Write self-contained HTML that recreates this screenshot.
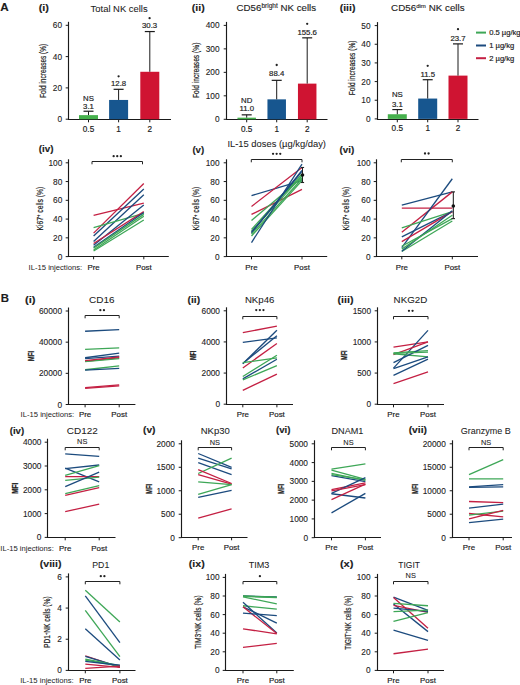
<!DOCTYPE html>
<html><head><meta charset="utf-8"><style>
html,body{margin:0;padding:0;background:#fff;width:520px;height:685px;overflow:hidden;}
svg text{font-family:"Liberation Sans",sans-serif;}
</style></head><body>
<svg width="520" height="685" viewBox="0 0 520 685" style="display:block;font-family:'Liberation Sans',sans-serif">
<rect width="520" height="685" fill="#ffffff"/>
<text x="4.50" y="10.99" font-size="10.4" text-anchor="middle" font-weight="bold" fill="#1c1c1c" stroke="#1c1c1c" stroke-width="0.12" textLength="8.44" lengthAdjust="spacingAndGlyphs" >A</text>
<text x="4.80" y="302.09" font-size="10.4" text-anchor="middle" font-weight="bold" fill="#1c1c1c" stroke="#1c1c1c" stroke-width="0.12" textLength="8.24" lengthAdjust="spacingAndGlyphs" >B</text>
<text x="43.85" y="10.82" font-size="9.7" text-anchor="middle" font-weight="bold" fill="#1c1c1c" stroke="#1c1c1c" stroke-width="0.12" textLength="10.27" lengthAdjust="spacingAndGlyphs" >(i)</text>
<text x="119.15" y="11.60" font-size="9.6" text-anchor="middle" font-weight="normal" fill="#1c1c1c" stroke="#1c1c1c" stroke-width="0.06" textLength="57.06" lengthAdjust="spacingAndGlyphs" >Total NK cells</text>
<line x1="68.50" y1="21.80" x2="68.50" y2="120.00" stroke="#1a1a1a" stroke-width="1.15" />
<line x1="65.70" y1="119.20" x2="68.50" y2="119.20" stroke="#1a1a1a" stroke-width="1.0" />
<text x="62.00" y="122.23" font-size="8.3" text-anchor="end" font-weight="normal" fill="#1c1c1c" stroke="#1c1c1c" stroke-width="0.1" >0</text>
<line x1="65.70" y1="87.90" x2="68.50" y2="87.90" stroke="#1a1a1a" stroke-width="1.0" />
<text x="62.00" y="90.93" font-size="8.3" text-anchor="end" font-weight="normal" fill="#1c1c1c" stroke="#1c1c1c" stroke-width="0.1" >20</text>
<line x1="65.70" y1="56.60" x2="68.50" y2="56.60" stroke="#1a1a1a" stroke-width="1.0" />
<text x="62.00" y="59.63" font-size="8.3" text-anchor="end" font-weight="normal" fill="#1c1c1c" stroke="#1c1c1c" stroke-width="0.1" >40</text>
<line x1="65.70" y1="25.30" x2="68.50" y2="25.30" stroke="#1a1a1a" stroke-width="1.0" />
<text x="62.00" y="28.33" font-size="8.3" text-anchor="end" font-weight="normal" fill="#1c1c1c" stroke="#1c1c1c" stroke-width="0.1" >60</text>
<line x1="68.00" y1="119.50" x2="171.00" y2="119.50" stroke="#1a1a1a" stroke-width="1.15" />
<text transform="translate(45.81,70.95) rotate(-90)" x="0" y="0" font-size="9.0" font-weight="normal" text-anchor="middle" fill="#1c1c1c" stroke="#1c1c1c" stroke-width="0.2" textLength="54.30" lengthAdjust="spacingAndGlyphs">Fold increases (%)</text>
<line x1="88.50" y1="119.50" x2="88.50" y2="122.30" stroke="#1a1a1a" stroke-width="1.0" />
<text x="88.50" y="131.50" font-size="8.2" text-anchor="middle" font-weight="normal" fill="#1c1c1c" stroke="#1c1c1c" stroke-width="0.18" >0.5</text>
<line x1="118.60" y1="119.50" x2="118.60" y2="122.30" stroke="#1a1a1a" stroke-width="1.0" />
<text x="118.60" y="131.50" font-size="8.2" text-anchor="middle" font-weight="normal" fill="#1c1c1c" stroke="#1c1c1c" stroke-width="0.18" >1</text>
<line x1="149.80" y1="119.50" x2="149.80" y2="122.30" stroke="#1a1a1a" stroke-width="1.0" />
<text x="149.80" y="131.50" font-size="8.2" text-anchor="middle" font-weight="normal" fill="#1c1c1c" stroke="#1c1c1c" stroke-width="0.18" >2</text>
<rect x="79.00" y="115.13" width="19.00" height="4.07" fill="#45b04c" stroke="none" stroke-width="0"/>
<line x1="88.50" y1="115.13" x2="88.50" y2="111.22" stroke="#1a1a1a" stroke-width="1.0" />
<line x1="83.50" y1="111.22" x2="93.50" y2="111.22" stroke="#1a1a1a" stroke-width="1.2" />
<rect x="109.10" y="99.95" width="19.00" height="19.25" fill="#17568f" stroke="none" stroke-width="0"/>
<line x1="118.60" y1="99.95" x2="118.60" y2="89.31" stroke="#1a1a1a" stroke-width="1.0" />
<line x1="113.60" y1="89.31" x2="123.60" y2="89.31" stroke="#1a1a1a" stroke-width="1.2" />
<rect x="140.30" y="71.78" width="19.00" height="47.42" fill="#cf1432" stroke="none" stroke-width="0"/>
<line x1="149.80" y1="71.78" x2="149.80" y2="31.56" stroke="#1a1a1a" stroke-width="1.0" />
<line x1="144.80" y1="31.56" x2="154.80" y2="31.56" stroke="#1a1a1a" stroke-width="1.2" />
<text x="88.50" y="101.10" font-size="7.8" text-anchor="middle" font-weight="normal" fill="#1c1c1c" stroke="#1c1c1c" stroke-width="0.18" >NS</text>
<text x="88.50" y="108.60" font-size="7.8" text-anchor="middle" font-weight="normal" fill="#1c1c1c" stroke="#1c1c1c" stroke-width="0.18" >3.1</text>
<circle cx="118.60" cy="76.30" r="1.15" fill="#222"/>
<text x="118.60" y="85.50" font-size="7.8" text-anchor="middle" font-weight="normal" fill="#1c1c1c" stroke="#1c1c1c" stroke-width="0.18" >12.8</text>
<circle cx="149.60" cy="18.20" r="1.15" fill="#222"/>
<text x="149.60" y="28.30" font-size="7.8" text-anchor="middle" font-weight="normal" fill="#1c1c1c" stroke="#1c1c1c" stroke-width="0.18" >30.3</text>
<text x="198.30" y="10.62" font-size="9.7" text-anchor="middle" font-weight="bold" fill="#1c1c1c" stroke="#1c1c1c" stroke-width="0.12" textLength="12.97" lengthAdjust="spacingAndGlyphs" >(ii)</text>
<text x="236.6" y="11.1" font-size="9.4" fill="#1c1c1c" stroke="#1c1c1c" stroke-width="0.12" textLength="79.5" lengthAdjust="spacingAndGlyphs">CD56<tspan font-size="6.3" dy="-3.4">bright</tspan><tspan dy="3.4"> NK cells</tspan></text>
<line x1="226.50" y1="21.90" x2="226.50" y2="120.00" stroke="#1a1a1a" stroke-width="1.15" />
<line x1="223.70" y1="119.30" x2="226.50" y2="119.30" stroke="#1a1a1a" stroke-width="1.0" />
<text x="219.60" y="122.33" font-size="8.3" text-anchor="end" font-weight="normal" fill="#1c1c1c" stroke="#1c1c1c" stroke-width="0.1" >0</text>
<line x1="223.70" y1="95.82" x2="226.50" y2="95.82" stroke="#1a1a1a" stroke-width="1.0" />
<text x="219.60" y="98.85" font-size="8.3" text-anchor="end" font-weight="normal" fill="#1c1c1c" stroke="#1c1c1c" stroke-width="0.1" >100</text>
<line x1="223.70" y1="72.35" x2="226.50" y2="72.35" stroke="#1a1a1a" stroke-width="1.0" />
<text x="219.60" y="75.38" font-size="8.3" text-anchor="end" font-weight="normal" fill="#1c1c1c" stroke="#1c1c1c" stroke-width="0.1" >200</text>
<line x1="223.70" y1="48.87" x2="226.50" y2="48.87" stroke="#1a1a1a" stroke-width="1.0" />
<text x="219.60" y="51.90" font-size="8.3" text-anchor="end" font-weight="normal" fill="#1c1c1c" stroke="#1c1c1c" stroke-width="0.1" >300</text>
<line x1="223.70" y1="25.40" x2="226.50" y2="25.40" stroke="#1a1a1a" stroke-width="1.0" />
<text x="219.60" y="28.43" font-size="8.3" text-anchor="end" font-weight="normal" fill="#1c1c1c" stroke="#1c1c1c" stroke-width="0.1" >400</text>
<line x1="226.00" y1="119.50" x2="327.50" y2="119.50" stroke="#1a1a1a" stroke-width="1.15" />
<text transform="translate(199.41,70.35) rotate(-90)" x="0" y="0" font-size="9.0" font-weight="normal" text-anchor="middle" fill="#1c1c1c" stroke="#1c1c1c" stroke-width="0.2" textLength="55.50" lengthAdjust="spacingAndGlyphs">Fold increases (%)</text>
<line x1="246.70" y1="119.50" x2="246.70" y2="122.30" stroke="#1a1a1a" stroke-width="1.0" />
<text x="246.70" y="131.50" font-size="8.2" text-anchor="middle" font-weight="normal" fill="#1c1c1c" stroke="#1c1c1c" stroke-width="0.18" >0.5</text>
<line x1="276.70" y1="119.50" x2="276.70" y2="122.30" stroke="#1a1a1a" stroke-width="1.0" />
<text x="276.70" y="131.50" font-size="8.2" text-anchor="middle" font-weight="normal" fill="#1c1c1c" stroke="#1c1c1c" stroke-width="0.18" >1</text>
<line x1="307.20" y1="119.50" x2="307.20" y2="122.30" stroke="#1a1a1a" stroke-width="1.0" />
<text x="307.20" y="131.50" font-size="8.2" text-anchor="middle" font-weight="normal" fill="#1c1c1c" stroke="#1c1c1c" stroke-width="0.18" >2</text>
<rect x="237.45" y="117.66" width="18.50" height="1.64" fill="#45b04c" stroke="none" stroke-width="0"/>
<line x1="246.70" y1="117.66" x2="246.70" y2="114.84" stroke="#1a1a1a" stroke-width="1.0" />
<line x1="241.70" y1="114.84" x2="251.70" y2="114.84" stroke="#1a1a1a" stroke-width="1.2" />
<rect x="267.45" y="99.35" width="18.50" height="19.95" fill="#17568f" stroke="none" stroke-width="0"/>
<line x1="276.70" y1="99.35" x2="276.70" y2="80.33" stroke="#1a1a1a" stroke-width="1.0" />
<line x1="271.70" y1="80.33" x2="281.70" y2="80.33" stroke="#1a1a1a" stroke-width="1.2" />
<rect x="297.95" y="83.62" width="18.50" height="35.68" fill="#cf1432" stroke="none" stroke-width="0"/>
<line x1="307.20" y1="83.62" x2="307.20" y2="37.84" stroke="#1a1a1a" stroke-width="1.0" />
<line x1="302.20" y1="37.84" x2="312.20" y2="37.84" stroke="#1a1a1a" stroke-width="1.2" />
<text x="246.70" y="102.50" font-size="7.8" text-anchor="middle" font-weight="normal" fill="#1c1c1c" stroke="#1c1c1c" stroke-width="0.18" >ND</text>
<text x="246.70" y="111.30" font-size="7.8" text-anchor="middle" font-weight="normal" fill="#1c1c1c" stroke="#1c1c1c" stroke-width="0.18" >11.0</text>
<circle cx="276.70" cy="65.00" r="1.15" fill="#222"/>
<text x="276.70" y="76.00" font-size="7.8" text-anchor="middle" font-weight="normal" fill="#1c1c1c" stroke="#1c1c1c" stroke-width="0.18" >88.4</text>
<circle cx="307.20" cy="23.80" r="1.15" fill="#222"/>
<text x="307.20" y="34.60" font-size="7.8" text-anchor="middle" font-weight="normal" fill="#1c1c1c" stroke="#1c1c1c" stroke-width="0.18" >155.6</text>
<text x="347.60" y="10.62" font-size="9.7" text-anchor="middle" font-weight="bold" fill="#1c1c1c" stroke="#1c1c1c" stroke-width="0.12" textLength="15.77" lengthAdjust="spacingAndGlyphs" >(iii)</text>
<text x="391.1" y="11.3" font-size="9.4" fill="#1c1c1c" stroke="#1c1c1c" stroke-width="0.12" textLength="73.5" lengthAdjust="spacingAndGlyphs">CD56<tspan font-size="5.8" dy="-3.4">dim</tspan><tspan dy="3.4"> NK cells</tspan></text>
<line x1="377.50" y1="22.10" x2="377.50" y2="120.00" stroke="#1a1a1a" stroke-width="1.15" />
<line x1="374.70" y1="118.90" x2="377.50" y2="118.90" stroke="#1a1a1a" stroke-width="1.0" />
<text x="370.60" y="121.93" font-size="8.3" text-anchor="end" font-weight="normal" fill="#1c1c1c" stroke="#1c1c1c" stroke-width="0.1" >0</text>
<line x1="374.70" y1="100.24" x2="377.50" y2="100.24" stroke="#1a1a1a" stroke-width="1.0" />
<text x="370.60" y="103.27" font-size="8.3" text-anchor="end" font-weight="normal" fill="#1c1c1c" stroke="#1c1c1c" stroke-width="0.1" >10</text>
<line x1="374.70" y1="81.58" x2="377.50" y2="81.58" stroke="#1a1a1a" stroke-width="1.0" />
<text x="370.60" y="84.61" font-size="8.3" text-anchor="end" font-weight="normal" fill="#1c1c1c" stroke="#1c1c1c" stroke-width="0.1" >20</text>
<line x1="374.70" y1="62.92" x2="377.50" y2="62.92" stroke="#1a1a1a" stroke-width="1.0" />
<text x="370.60" y="65.95" font-size="8.3" text-anchor="end" font-weight="normal" fill="#1c1c1c" stroke="#1c1c1c" stroke-width="0.1" >30</text>
<line x1="374.70" y1="44.26" x2="377.50" y2="44.26" stroke="#1a1a1a" stroke-width="1.0" />
<text x="370.60" y="47.29" font-size="8.3" text-anchor="end" font-weight="normal" fill="#1c1c1c" stroke="#1c1c1c" stroke-width="0.1" >40</text>
<line x1="374.70" y1="25.60" x2="377.50" y2="25.60" stroke="#1a1a1a" stroke-width="1.0" />
<text x="370.60" y="28.63" font-size="8.3" text-anchor="end" font-weight="normal" fill="#1c1c1c" stroke="#1c1c1c" stroke-width="0.1" >50</text>
<line x1="377.00" y1="119.50" x2="478.50" y2="119.50" stroke="#1a1a1a" stroke-width="1.15" />
<text transform="translate(354.71,67.90) rotate(-90)" x="0" y="0" font-size="9.0" font-weight="normal" text-anchor="middle" fill="#1c1c1c" stroke="#1c1c1c" stroke-width="0.2" textLength="54.60" lengthAdjust="spacingAndGlyphs">Fold increases (%)</text>
<line x1="397.30" y1="119.50" x2="397.30" y2="122.30" stroke="#1a1a1a" stroke-width="1.0" />
<text x="397.30" y="130.90" font-size="8.2" text-anchor="middle" font-weight="normal" fill="#1c1c1c" stroke="#1c1c1c" stroke-width="0.18" >0.5</text>
<line x1="427.70" y1="119.50" x2="427.70" y2="122.30" stroke="#1a1a1a" stroke-width="1.0" />
<text x="427.70" y="130.90" font-size="8.2" text-anchor="middle" font-weight="normal" fill="#1c1c1c" stroke="#1c1c1c" stroke-width="0.18" >1</text>
<line x1="458.00" y1="119.50" x2="458.00" y2="122.30" stroke="#1a1a1a" stroke-width="1.0" />
<text x="458.00" y="130.90" font-size="8.2" text-anchor="middle" font-weight="normal" fill="#1c1c1c" stroke="#1c1c1c" stroke-width="0.18" >2</text>
<rect x="387.80" y="114.23" width="19.00" height="4.67" fill="#45b04c" stroke="none" stroke-width="0"/>
<line x1="397.30" y1="114.23" x2="397.30" y2="109.57" stroke="#1a1a1a" stroke-width="1.0" />
<line x1="392.30" y1="109.57" x2="402.30" y2="109.57" stroke="#1a1a1a" stroke-width="1.2" />
<rect x="418.20" y="98.56" width="19.00" height="20.34" fill="#17568f" stroke="none" stroke-width="0"/>
<line x1="427.70" y1="98.56" x2="427.70" y2="79.71" stroke="#1a1a1a" stroke-width="1.0" />
<line x1="422.70" y1="79.71" x2="432.70" y2="79.71" stroke="#1a1a1a" stroke-width="1.2" />
<rect x="448.50" y="75.61" width="19.00" height="43.29" fill="#cf1432" stroke="none" stroke-width="0"/>
<line x1="458.00" y1="75.61" x2="458.00" y2="43.89" stroke="#1a1a1a" stroke-width="1.0" />
<line x1="453.00" y1="43.89" x2="463.00" y2="43.89" stroke="#1a1a1a" stroke-width="1.2" />
<text x="397.30" y="97.40" font-size="7.8" text-anchor="middle" font-weight="normal" fill="#1c1c1c" stroke="#1c1c1c" stroke-width="0.18" >NS</text>
<text x="397.30" y="106.60" font-size="7.8" text-anchor="middle" font-weight="normal" fill="#1c1c1c" stroke="#1c1c1c" stroke-width="0.18" >3.1</text>
<circle cx="427.70" cy="65.80" r="1.15" fill="#222"/>
<text x="427.70" y="76.60" font-size="7.8" text-anchor="middle" font-weight="normal" fill="#1c1c1c" stroke="#1c1c1c" stroke-width="0.18" >11.5</text>
<circle cx="458.00" cy="29.20" r="1.15" fill="#222"/>
<text x="458.00" y="40.50" font-size="7.8" text-anchor="middle" font-weight="normal" fill="#1c1c1c" stroke="#1c1c1c" stroke-width="0.18" >23.7</text>
<line x1="476.00" y1="32.60" x2="486.00" y2="32.60" stroke="#3ea757" stroke-width="2.0" />
<text x="489.20" y="35.40" font-size="7.6" text-anchor="start" font-weight="normal" fill="#1c1c1c" stroke="#1c1c1c" stroke-width="0.18" >0.5 µg/kg</text>
<line x1="476.00" y1="45.50" x2="486.00" y2="45.50" stroke="#1c4b7e" stroke-width="2.0" />
<text x="489.20" y="48.30" font-size="7.6" text-anchor="start" font-weight="normal" fill="#1c1c1c" stroke="#1c1c1c" stroke-width="0.18" >1 µg/kg</text>
<line x1="476.00" y1="58.20" x2="486.00" y2="58.20" stroke="#c42043" stroke-width="2.0" />
<text x="489.20" y="61.00" font-size="7.6" text-anchor="start" font-weight="normal" fill="#1c1c1c" stroke="#1c1c1c" stroke-width="0.18" >2 µg/kg</text>
<text x="46.10" y="152.02" font-size="9.7" text-anchor="middle" font-weight="bold" fill="#1c1c1c" stroke="#1c1c1c" stroke-width="0.12" textLength="14.77" lengthAdjust="spacingAndGlyphs" >(iv)</text>
<text x="198.30" y="152.72" font-size="9.7" text-anchor="middle" font-weight="bold" fill="#1c1c1c" stroke="#1c1c1c" stroke-width="0.12" textLength="11.77" lengthAdjust="spacingAndGlyphs" >(v)</text>
<text x="346.90" y="152.92" font-size="9.7" text-anchor="middle" font-weight="bold" fill="#1c1c1c" stroke="#1c1c1c" stroke-width="0.12" textLength="14.77" lengthAdjust="spacingAndGlyphs" >(vi)</text>
<text x="276.70" y="147.08" font-size="9.0" text-anchor="middle" font-weight="normal" fill="#1c1c1c" stroke="#1c1c1c" stroke-width="0.06" textLength="98.50" lengthAdjust="spacingAndGlyphs" >IL-15 doses (µg/kg/day)</text>
<line x1="68.50" y1="159.30" x2="68.50" y2="257.00" stroke="#1a1a1a" stroke-width="1.15" />
<line x1="65.70" y1="256.60" x2="68.50" y2="256.60" stroke="#1a1a1a" stroke-width="1.0" />
<text x="62.30" y="259.63" font-size="8.3" text-anchor="end" font-weight="normal" fill="#1c1c1c" stroke="#1c1c1c" stroke-width="0.1" >0</text>
<line x1="65.70" y1="237.84" x2="68.50" y2="237.84" stroke="#1a1a1a" stroke-width="1.0" />
<text x="62.30" y="240.87" font-size="8.3" text-anchor="end" font-weight="normal" fill="#1c1c1c" stroke="#1c1c1c" stroke-width="0.1" >20</text>
<line x1="65.70" y1="219.08" x2="68.50" y2="219.08" stroke="#1a1a1a" stroke-width="1.0" />
<text x="62.30" y="222.11" font-size="8.3" text-anchor="end" font-weight="normal" fill="#1c1c1c" stroke="#1c1c1c" stroke-width="0.1" >40</text>
<line x1="65.70" y1="200.32" x2="68.50" y2="200.32" stroke="#1a1a1a" stroke-width="1.0" />
<text x="62.30" y="203.35" font-size="8.3" text-anchor="end" font-weight="normal" fill="#1c1c1c" stroke="#1c1c1c" stroke-width="0.1" >60</text>
<line x1="65.70" y1="181.56" x2="68.50" y2="181.56" stroke="#1a1a1a" stroke-width="1.0" />
<text x="62.30" y="184.59" font-size="8.3" text-anchor="end" font-weight="normal" fill="#1c1c1c" stroke="#1c1c1c" stroke-width="0.1" >80</text>
<line x1="65.70" y1="162.80" x2="68.50" y2="162.80" stroke="#1a1a1a" stroke-width="1.0" />
<text x="62.30" y="165.83" font-size="8.3" text-anchor="end" font-weight="normal" fill="#1c1c1c" stroke="#1c1c1c" stroke-width="0.1" >100</text>
<line x1="68.00" y1="256.50" x2="168.80" y2="256.50" stroke="#1a1a1a" stroke-width="1.15" />
<line x1="93.60" y1="256.50" x2="93.60" y2="259.30" stroke="#1a1a1a" stroke-width="1.0" />
<line x1="143.80" y1="256.50" x2="143.80" y2="259.30" stroke="#1a1a1a" stroke-width="1.0" />
<path d="M92.00,164.30 V161.50 H142.50 V164.30" fill="none" stroke="#222" stroke-width="1.0"/>
<circle cx="113.65" cy="156.20" r="1.15" fill="#222"/>
<circle cx="117.25" cy="156.20" r="1.15" fill="#222"/>
<circle cx="120.85" cy="156.20" r="1.15" fill="#222"/>
<text transform="translate(42.71,208.60) rotate(-90)" x="0" y="0" font-size="9.0" font-weight="normal" text-anchor="middle" fill="#1c1c1c" stroke="#1c1c1c" stroke-width="0.2" textLength="43.80" lengthAdjust="spacingAndGlyphs">Ki67<tspan font-size="5.5" dy="-2.6">+</tspan><tspan dy="2.6"> cells (%)</tspan></text>
<text x="93.60" y="269.50" font-size="7.9" text-anchor="middle" font-weight="normal" fill="#1c1c1c" stroke="#1c1c1c" stroke-width="0.18" >Pre</text>
<text x="143.80" y="269.50" font-size="7.9" text-anchor="middle" font-weight="normal" fill="#1c1c1c" stroke="#1c1c1c" stroke-width="0.18" >Post</text>
<line x1="93.60" y1="215.33" x2="143.80" y2="203.13" stroke="#c42043" stroke-width="1.3" />
<line x1="93.60" y1="233.15" x2="143.80" y2="183.44" stroke="#c42043" stroke-width="1.3" />
<line x1="93.60" y1="235.96" x2="143.80" y2="189.06" stroke="#1c4b7e" stroke-width="1.3" />
<line x1="93.60" y1="241.59" x2="143.80" y2="194.69" stroke="#1c4b7e" stroke-width="1.3" />
<line x1="93.60" y1="227.52" x2="143.80" y2="213.45" stroke="#3ea757" stroke-width="1.3" />
<line x1="93.60" y1="245.34" x2="143.80" y2="205.01" stroke="#1c4b7e" stroke-width="1.3" />
<line x1="93.60" y1="243.47" x2="143.80" y2="211.58" stroke="#c42043" stroke-width="1.3" />
<line x1="93.60" y1="247.22" x2="143.80" y2="212.51" stroke="#1c4b7e" stroke-width="1.3" />
<line x1="93.60" y1="248.16" x2="143.80" y2="214.39" stroke="#3ea757" stroke-width="1.3" />
<line x1="93.60" y1="250.03" x2="143.80" y2="216.27" stroke="#3ea757" stroke-width="1.3" />
<line x1="93.60" y1="250.97" x2="143.80" y2="220.02" stroke="#3ea757" stroke-width="1.3" />
<text x="28.60" y="269.60" font-size="7.7" text-anchor="start" font-weight="normal" fill="#1c1c1c" textLength="53.50" lengthAdjust="spacingAndGlyphs" >IL-15 injections:</text>
<line x1="226.50" y1="159.30" x2="226.50" y2="257.00" stroke="#1a1a1a" stroke-width="1.15" />
<line x1="223.70" y1="256.60" x2="226.50" y2="256.60" stroke="#1a1a1a" stroke-width="1.0" />
<text x="219.60" y="259.63" font-size="8.3" text-anchor="end" font-weight="normal" fill="#1c1c1c" stroke="#1c1c1c" stroke-width="0.1" >0</text>
<line x1="223.70" y1="237.84" x2="226.50" y2="237.84" stroke="#1a1a1a" stroke-width="1.0" />
<text x="219.60" y="240.87" font-size="8.3" text-anchor="end" font-weight="normal" fill="#1c1c1c" stroke="#1c1c1c" stroke-width="0.1" >20</text>
<line x1="223.70" y1="219.08" x2="226.50" y2="219.08" stroke="#1a1a1a" stroke-width="1.0" />
<text x="219.60" y="222.11" font-size="8.3" text-anchor="end" font-weight="normal" fill="#1c1c1c" stroke="#1c1c1c" stroke-width="0.1" >40</text>
<line x1="223.70" y1="200.32" x2="226.50" y2="200.32" stroke="#1a1a1a" stroke-width="1.0" />
<text x="219.60" y="203.35" font-size="8.3" text-anchor="end" font-weight="normal" fill="#1c1c1c" stroke="#1c1c1c" stroke-width="0.1" >60</text>
<line x1="223.70" y1="181.56" x2="226.50" y2="181.56" stroke="#1a1a1a" stroke-width="1.0" />
<text x="219.60" y="184.59" font-size="8.3" text-anchor="end" font-weight="normal" fill="#1c1c1c" stroke="#1c1c1c" stroke-width="0.1" >80</text>
<line x1="223.70" y1="162.80" x2="226.50" y2="162.80" stroke="#1a1a1a" stroke-width="1.0" />
<text x="219.60" y="165.83" font-size="8.3" text-anchor="end" font-weight="normal" fill="#1c1c1c" stroke="#1c1c1c" stroke-width="0.1" >100</text>
<line x1="226.00" y1="256.50" x2="327.20" y2="256.50" stroke="#1a1a1a" stroke-width="1.15" />
<line x1="251.50" y1="256.50" x2="251.50" y2="259.30" stroke="#1a1a1a" stroke-width="1.0" />
<line x1="302.00" y1="256.50" x2="302.00" y2="259.30" stroke="#1a1a1a" stroke-width="1.0" />
<path d="M251.30,162.30 V159.50 H302.00 V162.30" fill="none" stroke="#222" stroke-width="1.0"/>
<circle cx="273.05" cy="153.80" r="1.15" fill="#222"/>
<circle cx="276.65" cy="153.80" r="1.15" fill="#222"/>
<circle cx="280.25" cy="153.80" r="1.15" fill="#222"/>
<text transform="translate(199.41,208.60) rotate(-90)" x="0" y="0" font-size="9.0" font-weight="normal" text-anchor="middle" fill="#1c1c1c" stroke="#1c1c1c" stroke-width="0.2" textLength="43.80" lengthAdjust="spacingAndGlyphs">Ki67<tspan font-size="5.5" dy="-2.6">+</tspan><tspan dy="2.6"> cells (%)</tspan></text>
<text x="251.50" y="269.50" font-size="7.9" text-anchor="middle" font-weight="normal" fill="#1c1c1c" stroke="#1c1c1c" stroke-width="0.18" >Pre</text>
<text x="302.00" y="269.50" font-size="7.9" text-anchor="middle" font-weight="normal" fill="#1c1c1c" stroke="#1c1c1c" stroke-width="0.18" >Post</text>
<line x1="251.50" y1="195.63" x2="302.00" y2="180.62" stroke="#1c4b7e" stroke-width="1.3" />
<line x1="251.50" y1="206.42" x2="302.00" y2="167.49" stroke="#c42043" stroke-width="1.3" />
<line x1="251.50" y1="214.39" x2="302.00" y2="189.44" stroke="#c42043" stroke-width="1.3" />
<line x1="251.50" y1="220.39" x2="302.00" y2="177.81" stroke="#3ea757" stroke-width="1.3" />
<line x1="251.50" y1="229.40" x2="302.00" y2="174.06" stroke="#3ea757" stroke-width="1.3" />
<line x1="251.50" y1="231.27" x2="302.00" y2="175.93" stroke="#3ea757" stroke-width="1.3" />
<line x1="251.50" y1="233.15" x2="302.00" y2="170.30" stroke="#1c4b7e" stroke-width="1.3" />
<line x1="251.50" y1="234.09" x2="302.00" y2="178.75" stroke="#3ea757" stroke-width="1.3" />
<line x1="251.50" y1="235.96" x2="302.00" y2="180.62" stroke="#3ea757" stroke-width="1.3" />
<line x1="251.50" y1="242.53" x2="302.00" y2="164.11" stroke="#1c4b7e" stroke-width="1.3" />
<line x1="251.50" y1="232.21" x2="302.00" y2="171.24" stroke="#1c4b7e" stroke-width="1.3" />
<line x1="302.50" y1="167.49" x2="302.50" y2="182.50" stroke="#222" stroke-width="1.0" />
<line x1="300.90" y1="167.49" x2="304.10" y2="167.49" stroke="#222" stroke-width="1.1" />
<line x1="300.90" y1="182.50" x2="304.10" y2="182.50" stroke="#222" stroke-width="1.1" />
<circle cx="302.5" cy="174.99" r="1.8" fill="#111"/>
<line x1="376.50" y1="159.30" x2="376.50" y2="257.00" stroke="#1a1a1a" stroke-width="1.15" />
<line x1="373.70" y1="256.60" x2="376.50" y2="256.60" stroke="#1a1a1a" stroke-width="1.0" />
<text x="370.50" y="259.63" font-size="8.3" text-anchor="end" font-weight="normal" fill="#1c1c1c" stroke="#1c1c1c" stroke-width="0.1" >0</text>
<line x1="373.70" y1="237.84" x2="376.50" y2="237.84" stroke="#1a1a1a" stroke-width="1.0" />
<text x="370.50" y="240.87" font-size="8.3" text-anchor="end" font-weight="normal" fill="#1c1c1c" stroke="#1c1c1c" stroke-width="0.1" >20</text>
<line x1="373.70" y1="219.08" x2="376.50" y2="219.08" stroke="#1a1a1a" stroke-width="1.0" />
<text x="370.50" y="222.11" font-size="8.3" text-anchor="end" font-weight="normal" fill="#1c1c1c" stroke="#1c1c1c" stroke-width="0.1" >40</text>
<line x1="373.70" y1="200.32" x2="376.50" y2="200.32" stroke="#1a1a1a" stroke-width="1.0" />
<text x="370.50" y="203.35" font-size="8.3" text-anchor="end" font-weight="normal" fill="#1c1c1c" stroke="#1c1c1c" stroke-width="0.1" >60</text>
<line x1="373.70" y1="181.56" x2="376.50" y2="181.56" stroke="#1a1a1a" stroke-width="1.0" />
<text x="370.50" y="184.59" font-size="8.3" text-anchor="end" font-weight="normal" fill="#1c1c1c" stroke="#1c1c1c" stroke-width="0.1" >80</text>
<line x1="373.70" y1="162.80" x2="376.50" y2="162.80" stroke="#1a1a1a" stroke-width="1.0" />
<text x="370.50" y="165.83" font-size="8.3" text-anchor="end" font-weight="normal" fill="#1c1c1c" stroke="#1c1c1c" stroke-width="0.1" >100</text>
<line x1="376.00" y1="256.50" x2="478.00" y2="256.50" stroke="#1a1a1a" stroke-width="1.15" />
<line x1="401.80" y1="256.50" x2="401.80" y2="259.30" stroke="#1a1a1a" stroke-width="1.0" />
<line x1="452.30" y1="256.50" x2="452.30" y2="259.30" stroke="#1a1a1a" stroke-width="1.0" />
<path d="M401.30,162.30 V159.50 H452.30 V162.30" fill="none" stroke="#222" stroke-width="1.0"/>
<circle cx="425.00" cy="153.50" r="1.15" fill="#222"/>
<circle cx="428.60" cy="153.50" r="1.15" fill="#222"/>
<text transform="translate(349.41,208.60) rotate(-90)" x="0" y="0" font-size="9.0" font-weight="normal" text-anchor="middle" fill="#1c1c1c" stroke="#1c1c1c" stroke-width="0.2" textLength="43.80" lengthAdjust="spacingAndGlyphs">Ki67<tspan font-size="5.5" dy="-2.6">+</tspan><tspan dy="2.6"> cells (%)</tspan></text>
<text x="401.80" y="269.50" font-size="7.9" text-anchor="middle" font-weight="normal" fill="#1c1c1c" stroke="#1c1c1c" stroke-width="0.18" >Pre</text>
<text x="452.30" y="269.50" font-size="7.9" text-anchor="middle" font-weight="normal" fill="#1c1c1c" stroke="#1c1c1c" stroke-width="0.18" >Post</text>
<line x1="401.80" y1="205.01" x2="452.30" y2="191.88" stroke="#1c4b7e" stroke-width="1.3" />
<line x1="401.80" y1="208.20" x2="452.30" y2="208.20" stroke="#c42043" stroke-width="1.3" />
<line x1="401.80" y1="232.21" x2="452.30" y2="191.88" stroke="#c42043" stroke-width="1.3" />
<line x1="401.80" y1="247.60" x2="452.30" y2="178.75" stroke="#1c4b7e" stroke-width="1.3" />
<line x1="401.80" y1="227.90" x2="452.30" y2="211.58" stroke="#3ea757" stroke-width="1.3" />
<line x1="401.80" y1="236.90" x2="452.30" y2="211.58" stroke="#1c4b7e" stroke-width="1.3" />
<line x1="401.80" y1="241.59" x2="452.30" y2="211.58" stroke="#c42043" stroke-width="1.3" />
<line x1="401.80" y1="246.28" x2="452.30" y2="218.61" stroke="#3ea757" stroke-width="1.3" />
<line x1="401.80" y1="251.44" x2="452.30" y2="220.96" stroke="#3ea757" stroke-width="1.3" />
<line x1="401.80" y1="251.16" x2="452.30" y2="210.64" stroke="#1c4b7e" stroke-width="1.3" />
<line x1="401.80" y1="249.10" x2="452.30" y2="215.33" stroke="#3ea757" stroke-width="1.3" />
<line x1="453.30" y1="191.88" x2="453.30" y2="218.61" stroke="#111" stroke-width="1.0" />
<line x1="451.50" y1="191.88" x2="455.00" y2="191.88" stroke="#222" stroke-width="1.1" />
<line x1="451.50" y1="218.61" x2="455.00" y2="218.61" stroke="#222" stroke-width="1.1" />
<circle cx="453.3" cy="205.95" r="1.8" fill="#111"/>
<text x="30.20" y="302.82" font-size="9.7" text-anchor="middle" font-weight="bold" fill="#1c1c1c" stroke="#1c1c1c" stroke-width="0.12" textLength="10.57" lengthAdjust="spacingAndGlyphs" >(i)</text>
<text x="101.85" y="302.63" font-size="9.4" text-anchor="middle" font-weight="normal" fill="#1c1c1c" stroke="#1c1c1c" stroke-width="0.06" textLength="25.44" lengthAdjust="spacingAndGlyphs" >CD16</text>
<line x1="68.50" y1="307.50" x2="68.50" y2="405.00" stroke="#1a1a1a" stroke-width="1.15" />
<line x1="65.70" y1="404.50" x2="68.50" y2="404.50" stroke="#1a1a1a" stroke-width="1.0" />
<text x="62.00" y="407.53" font-size="8.3" text-anchor="end" font-weight="normal" fill="#1c1c1c" stroke="#1c1c1c" stroke-width="0.1" >0</text>
<line x1="65.70" y1="373.33" x2="68.50" y2="373.33" stroke="#1a1a1a" stroke-width="1.0" />
<text x="62.00" y="376.36" font-size="8.3" text-anchor="end" font-weight="normal" fill="#1c1c1c" stroke="#1c1c1c" stroke-width="0.1" >20000</text>
<line x1="65.70" y1="342.17" x2="68.50" y2="342.17" stroke="#1a1a1a" stroke-width="1.0" />
<text x="62.00" y="345.19" font-size="8.3" text-anchor="end" font-weight="normal" fill="#1c1c1c" stroke="#1c1c1c" stroke-width="0.1" >40000</text>
<line x1="65.70" y1="311.00" x2="68.50" y2="311.00" stroke="#1a1a1a" stroke-width="1.0" />
<text x="62.00" y="314.03" font-size="8.3" text-anchor="end" font-weight="normal" fill="#1c1c1c" stroke="#1c1c1c" stroke-width="0.1" >60000</text>
<line x1="68.00" y1="404.50" x2="135.40" y2="404.50" stroke="#1a1a1a" stroke-width="1.15" />
<line x1="85.10" y1="404.50" x2="85.10" y2="407.30" stroke="#1a1a1a" stroke-width="1.0" />
<line x1="119.20" y1="404.50" x2="119.20" y2="407.30" stroke="#1a1a1a" stroke-width="1.0" />
<path d="M85.10,318.30 V315.50 H119.20 V318.30" fill="none" stroke="#222" stroke-width="1.0"/>
<circle cx="100.35" cy="310.20" r="1.15" fill="#222"/>
<circle cx="103.95" cy="310.20" r="1.15" fill="#222"/>
<text transform="translate(33.60,356.10) rotate(-90)" x="0" y="0" font-size="9.0" font-weight="bold" text-anchor="middle" fill="#1c1c1c" stroke="#1c1c1c" stroke-width="0.25" textLength="10.40" lengthAdjust="spacingAndGlyphs">MFI</text>
<text x="85.10" y="417.30" font-size="7.9" text-anchor="middle" font-weight="normal" fill="#1c1c1c" stroke="#1c1c1c" stroke-width="0.18" >Pre</text>
<text x="119.20" y="417.30" font-size="7.9" text-anchor="middle" font-weight="normal" fill="#1c1c1c" stroke="#1c1c1c" stroke-width="0.18" >Post</text>
<line x1="85.10" y1="331.26" x2="119.20" y2="329.70" stroke="#1c4b7e" stroke-width="1.3" />
<line x1="85.10" y1="349.33" x2="119.20" y2="347.93" stroke="#3ea757" stroke-width="1.3" />
<line x1="85.10" y1="357.75" x2="119.20" y2="353.07" stroke="#1c4b7e" stroke-width="1.3" />
<line x1="85.10" y1="358.53" x2="119.20" y2="356.19" stroke="#1c4b7e" stroke-width="1.3" />
<line x1="85.10" y1="361.33" x2="119.20" y2="357.75" stroke="#c42043" stroke-width="1.3" />
<line x1="85.10" y1="361.65" x2="119.20" y2="358.53" stroke="#3ea757" stroke-width="1.3" />
<line x1="85.10" y1="360.56" x2="119.20" y2="356.97" stroke="#c42043" stroke-width="1.3" />
<line x1="85.10" y1="369.75" x2="119.20" y2="365.85" stroke="#3ea757" stroke-width="1.3" />
<line x1="85.10" y1="370.22" x2="119.20" y2="368.35" stroke="#1c4b7e" stroke-width="1.3" />
<line x1="85.10" y1="387.67" x2="119.20" y2="384.87" stroke="#c42043" stroke-width="1.3" />
<line x1="85.10" y1="388.29" x2="119.20" y2="385.80" stroke="#c42043" stroke-width="1.3" />
<text x="20.60" y="417.30" font-size="7.7" text-anchor="start" font-weight="normal" fill="#1c1c1c" textLength="53.50" lengthAdjust="spacingAndGlyphs" >IL-15 injections:</text>
<text x="193.80" y="302.92" font-size="9.7" text-anchor="middle" font-weight="bold" fill="#1c1c1c" stroke="#1c1c1c" stroke-width="0.12" textLength="12.57" lengthAdjust="spacingAndGlyphs" >(ii)</text>
<text x="259.65" y="302.73" font-size="9.4" text-anchor="middle" font-weight="normal" fill="#1c1c1c" stroke="#1c1c1c" stroke-width="0.06" textLength="29.44" lengthAdjust="spacingAndGlyphs" >NKp46</text>
<line x1="226.50" y1="307.30" x2="226.50" y2="405.00" stroke="#1a1a1a" stroke-width="1.15" />
<line x1="223.70" y1="404.20" x2="226.50" y2="404.20" stroke="#1a1a1a" stroke-width="1.0" />
<text x="220.00" y="407.23" font-size="8.3" text-anchor="end" font-weight="normal" fill="#1c1c1c" stroke="#1c1c1c" stroke-width="0.1" >0</text>
<line x1="223.70" y1="373.07" x2="226.50" y2="373.07" stroke="#1a1a1a" stroke-width="1.0" />
<text x="220.00" y="376.09" font-size="8.3" text-anchor="end" font-weight="normal" fill="#1c1c1c" stroke="#1c1c1c" stroke-width="0.1" >2000</text>
<line x1="223.70" y1="341.93" x2="226.50" y2="341.93" stroke="#1a1a1a" stroke-width="1.0" />
<text x="220.00" y="344.96" font-size="8.3" text-anchor="end" font-weight="normal" fill="#1c1c1c" stroke="#1c1c1c" stroke-width="0.1" >4000</text>
<line x1="223.70" y1="310.80" x2="226.50" y2="310.80" stroke="#1a1a1a" stroke-width="1.0" />
<text x="220.00" y="313.83" font-size="8.3" text-anchor="end" font-weight="normal" fill="#1c1c1c" stroke="#1c1c1c" stroke-width="0.1" >6000</text>
<line x1="226.00" y1="404.50" x2="293.00" y2="404.50" stroke="#1a1a1a" stroke-width="1.15" />
<line x1="242.80" y1="404.50" x2="242.80" y2="407.30" stroke="#1a1a1a" stroke-width="1.0" />
<line x1="276.90" y1="404.50" x2="276.90" y2="407.30" stroke="#1a1a1a" stroke-width="1.0" />
<path d="M242.80,319.30 V316.50 H276.90 V319.30" fill="none" stroke="#222" stroke-width="1.0"/>
<circle cx="256.25" cy="310.10" r="1.15" fill="#222"/>
<circle cx="259.85" cy="310.10" r="1.15" fill="#222"/>
<circle cx="263.45" cy="310.10" r="1.15" fill="#222"/>
<text transform="translate(195.80,355.45) rotate(-90)" x="0" y="0" font-size="9.0" font-weight="bold" text-anchor="middle" fill="#1c1c1c" stroke="#1c1c1c" stroke-width="0.25" textLength="9.30" lengthAdjust="spacingAndGlyphs">MFI</text>
<text x="242.80" y="417.10" font-size="7.9" text-anchor="middle" font-weight="normal" fill="#1c1c1c" stroke="#1c1c1c" stroke-width="0.18" >Pre</text>
<text x="276.90" y="417.10" font-size="7.9" text-anchor="middle" font-weight="normal" fill="#1c1c1c" stroke="#1c1c1c" stroke-width="0.18" >Post</text>
<line x1="242.80" y1="332.59" x2="276.90" y2="326.13" stroke="#c42043" stroke-width="1.3" />
<line x1="242.80" y1="342.32" x2="276.90" y2="337.89" stroke="#1c4b7e" stroke-width="1.3" />
<line x1="242.80" y1="363.73" x2="276.90" y2="330.26" stroke="#1c4b7e" stroke-width="1.3" />
<line x1="242.80" y1="363.42" x2="276.90" y2="335.71" stroke="#1c4b7e" stroke-width="1.3" />
<line x1="242.80" y1="367.93" x2="276.90" y2="343.49" stroke="#c42043" stroke-width="1.3" />
<line x1="242.80" y1="362.64" x2="276.90" y2="357.97" stroke="#3ea757" stroke-width="1.3" />
<line x1="242.80" y1="376.49" x2="276.90" y2="355.32" stroke="#3ea757" stroke-width="1.3" />
<line x1="242.80" y1="378.83" x2="276.90" y2="359.21" stroke="#1c4b7e" stroke-width="1.3" />
<line x1="242.80" y1="379.92" x2="276.90" y2="365.67" stroke="#3ea757" stroke-width="1.3" />
<line x1="242.80" y1="390.35" x2="276.90" y2="374.16" stroke="#c42043" stroke-width="1.3" />
<text x="345.50" y="302.92" font-size="9.7" text-anchor="middle" font-weight="bold" fill="#1c1c1c" stroke="#1c1c1c" stroke-width="0.12" textLength="15.97" lengthAdjust="spacingAndGlyphs" >(iii)</text>
<text x="410.45" y="302.73" font-size="9.4" text-anchor="middle" font-weight="normal" fill="#1c1c1c" stroke="#1c1c1c" stroke-width="0.06" textLength="33.64" lengthAdjust="spacingAndGlyphs" >NKG2D</text>
<line x1="377.50" y1="307.30" x2="377.50" y2="405.00" stroke="#1a1a1a" stroke-width="1.15" />
<line x1="374.70" y1="404.20" x2="377.50" y2="404.20" stroke="#1a1a1a" stroke-width="1.0" />
<text x="371.10" y="407.23" font-size="8.3" text-anchor="end" font-weight="normal" fill="#1c1c1c" stroke="#1c1c1c" stroke-width="0.1" >0</text>
<line x1="374.70" y1="373.07" x2="377.50" y2="373.07" stroke="#1a1a1a" stroke-width="1.0" />
<text x="371.10" y="376.09" font-size="8.3" text-anchor="end" font-weight="normal" fill="#1c1c1c" stroke="#1c1c1c" stroke-width="0.1" >500</text>
<line x1="374.70" y1="341.93" x2="377.50" y2="341.93" stroke="#1a1a1a" stroke-width="1.0" />
<text x="371.10" y="344.96" font-size="8.3" text-anchor="end" font-weight="normal" fill="#1c1c1c" stroke="#1c1c1c" stroke-width="0.1" >1000</text>
<line x1="374.70" y1="310.80" x2="377.50" y2="310.80" stroke="#1a1a1a" stroke-width="1.0" />
<text x="371.10" y="313.83" font-size="8.3" text-anchor="end" font-weight="normal" fill="#1c1c1c" stroke="#1c1c1c" stroke-width="0.1" >1500</text>
<line x1="377.00" y1="404.50" x2="444.00" y2="404.50" stroke="#1a1a1a" stroke-width="1.15" />
<line x1="393.50" y1="404.50" x2="393.50" y2="407.30" stroke="#1a1a1a" stroke-width="1.0" />
<line x1="428.00" y1="404.50" x2="428.00" y2="407.30" stroke="#1a1a1a" stroke-width="1.0" />
<path d="M393.50,319.30 V316.50 H428.00 V319.30" fill="none" stroke="#222" stroke-width="1.0"/>
<circle cx="408.95" cy="310.80" r="1.15" fill="#222"/>
<circle cx="412.55" cy="310.80" r="1.15" fill="#222"/>
<text transform="translate(346.90,355.20) rotate(-90)" x="0" y="0" font-size="9.0" font-weight="bold" text-anchor="middle" fill="#1c1c1c" stroke="#1c1c1c" stroke-width="0.25" textLength="9.80" lengthAdjust="spacingAndGlyphs">MFI</text>
<text x="393.50" y="417.10" font-size="7.9" text-anchor="middle" font-weight="normal" fill="#1c1c1c" stroke="#1c1c1c" stroke-width="0.18" >Pre</text>
<text x="428.00" y="417.10" font-size="7.9" text-anchor="middle" font-weight="normal" fill="#1c1c1c" stroke="#1c1c1c" stroke-width="0.18" >Post</text>
<line x1="393.50" y1="347.23" x2="428.00" y2="341.93" stroke="#c42043" stroke-width="1.3" />
<line x1="393.50" y1="368.09" x2="428.00" y2="330.41" stroke="#1c4b7e" stroke-width="1.3" />
<line x1="393.50" y1="354.57" x2="428.00" y2="341.93" stroke="#c42043" stroke-width="1.3" />
<line x1="393.50" y1="352.83" x2="428.00" y2="350.53" stroke="#3ea757" stroke-width="1.3" />
<line x1="393.50" y1="353.76" x2="428.00" y2="356.88" stroke="#3ea757" stroke-width="1.3" />
<line x1="393.50" y1="362.67" x2="428.00" y2="345.42" stroke="#1c4b7e" stroke-width="1.3" />
<line x1="393.50" y1="353.45" x2="428.00" y2="352.21" stroke="#3ea757" stroke-width="1.3" />
<line x1="393.50" y1="368.52" x2="428.00" y2="356.88" stroke="#1c4b7e" stroke-width="1.3" />
<line x1="393.50" y1="375.37" x2="428.00" y2="359.18" stroke="#1c4b7e" stroke-width="1.3" />
<line x1="393.50" y1="383.53" x2="428.00" y2="371.95" stroke="#c42043" stroke-width="1.3" />
<text x="16.95" y="433.52" font-size="9.7" text-anchor="middle" font-weight="bold" fill="#1c1c1c" stroke="#1c1c1c" stroke-width="0.12" textLength="14.47" lengthAdjust="spacingAndGlyphs" >(iv)</text>
<text x="82.30" y="434.43" font-size="9.4" text-anchor="middle" font-weight="normal" fill="#1c1c1c" stroke="#1c1c1c" stroke-width="0.06" textLength="30.94" lengthAdjust="spacingAndGlyphs" >CD122</text>
<line x1="47.50" y1="438.70" x2="47.50" y2="538.00" stroke="#1a1a1a" stroke-width="1.15" />
<line x1="44.70" y1="537.40" x2="47.50" y2="537.40" stroke="#1a1a1a" stroke-width="1.0" />
<text x="41.40" y="540.43" font-size="8.3" text-anchor="end" font-weight="normal" fill="#1c1c1c" stroke="#1c1c1c" stroke-width="0.1" >0</text>
<line x1="44.70" y1="513.60" x2="47.50" y2="513.60" stroke="#1a1a1a" stroke-width="1.0" />
<text x="41.40" y="516.63" font-size="8.3" text-anchor="end" font-weight="normal" fill="#1c1c1c" stroke="#1c1c1c" stroke-width="0.1" >1000</text>
<line x1="44.70" y1="489.80" x2="47.50" y2="489.80" stroke="#1a1a1a" stroke-width="1.0" />
<text x="41.40" y="492.83" font-size="8.3" text-anchor="end" font-weight="normal" fill="#1c1c1c" stroke="#1c1c1c" stroke-width="0.1" >2000</text>
<line x1="44.70" y1="466.00" x2="47.50" y2="466.00" stroke="#1a1a1a" stroke-width="1.0" />
<text x="41.40" y="469.03" font-size="8.3" text-anchor="end" font-weight="normal" fill="#1c1c1c" stroke="#1c1c1c" stroke-width="0.1" >3000</text>
<line x1="44.70" y1="442.20" x2="47.50" y2="442.20" stroke="#1a1a1a" stroke-width="1.0" />
<text x="41.40" y="445.23" font-size="8.3" text-anchor="end" font-weight="normal" fill="#1c1c1c" stroke="#1c1c1c" stroke-width="0.1" >4000</text>
<line x1="47.00" y1="537.50" x2="115.50" y2="537.50" stroke="#1a1a1a" stroke-width="1.15" />
<line x1="65.20" y1="537.50" x2="65.20" y2="540.30" stroke="#1a1a1a" stroke-width="1.0" />
<line x1="99.20" y1="537.50" x2="99.20" y2="540.30" stroke="#1a1a1a" stroke-width="1.0" />
<path d="M65.20,450.30 V447.50 H99.20 V450.30" fill="none" stroke="#222" stroke-width="1.0"/>
<text x="82.20" y="444.10" font-size="7.4" text-anchor="middle" font-weight="normal" fill="#1c1c1c" stroke="#1c1c1c" stroke-width="0.08" >NS</text>
<text transform="translate(17.60,488.20) rotate(-90)" x="0" y="0" font-size="9.0" font-weight="bold" text-anchor="middle" fill="#1c1c1c" stroke="#1c1c1c" stroke-width="0.25" textLength="11.00" lengthAdjust="spacingAndGlyphs">MFI</text>
<text x="65.20" y="550.70" font-size="7.9" text-anchor="middle" font-weight="normal" fill="#1c1c1c" stroke="#1c1c1c" stroke-width="0.18" >Pre</text>
<text x="99.20" y="550.70" font-size="7.9" text-anchor="middle" font-weight="normal" fill="#1c1c1c" stroke="#1c1c1c" stroke-width="0.18" >Post</text>
<line x1="65.20" y1="453.81" x2="99.20" y2="456.41" stroke="#1c4b7e" stroke-width="1.3" />
<line x1="65.20" y1="468.21" x2="99.20" y2="481.80" stroke="#1c4b7e" stroke-width="1.3" />
<line x1="65.20" y1="468.62" x2="99.20" y2="465.00" stroke="#1c4b7e" stroke-width="1.3" />
<line x1="65.20" y1="475.40" x2="99.20" y2="465.52" stroke="#3ea757" stroke-width="1.3" />
<line x1="65.20" y1="476.71" x2="99.20" y2="476.71" stroke="#c42043" stroke-width="1.3" />
<line x1="65.20" y1="480.28" x2="99.20" y2="477.19" stroke="#3ea757" stroke-width="1.3" />
<line x1="65.20" y1="486.61" x2="99.20" y2="472.19" stroke="#1c4b7e" stroke-width="1.3" />
<line x1="65.20" y1="493.61" x2="99.20" y2="485.61" stroke="#3ea757" stroke-width="1.3" />
<line x1="65.20" y1="495.27" x2="99.20" y2="487.71" stroke="#c42043" stroke-width="1.3" />
<line x1="65.20" y1="511.70" x2="99.20" y2="504.01" stroke="#c42043" stroke-width="1.3" />
<text x="0.30" y="550.60" font-size="7.7" text-anchor="start" font-weight="normal" fill="#1c1c1c" textLength="53.50" lengthAdjust="spacingAndGlyphs" >IL-15 injections:</text>
<text x="149.25" y="432.92" font-size="9.7" text-anchor="middle" font-weight="bold" fill="#1c1c1c" stroke="#1c1c1c" stroke-width="0.12" textLength="12.47" lengthAdjust="spacingAndGlyphs" >(v)</text>
<text x="215.25" y="433.83" font-size="9.4" text-anchor="middle" font-weight="normal" fill="#1c1c1c" stroke="#1c1c1c" stroke-width="0.06" textLength="29.04" lengthAdjust="spacingAndGlyphs" >NKp30</text>
<line x1="181.50" y1="440.30" x2="181.50" y2="538.00" stroke="#1a1a1a" stroke-width="1.15" />
<line x1="178.70" y1="537.70" x2="181.50" y2="537.70" stroke="#1a1a1a" stroke-width="1.0" />
<text x="174.90" y="540.73" font-size="8.3" text-anchor="end" font-weight="normal" fill="#1c1c1c" stroke="#1c1c1c" stroke-width="0.1" >0</text>
<line x1="178.70" y1="514.23" x2="181.50" y2="514.23" stroke="#1a1a1a" stroke-width="1.0" />
<text x="174.90" y="517.25" font-size="8.3" text-anchor="end" font-weight="normal" fill="#1c1c1c" stroke="#1c1c1c" stroke-width="0.1" >500</text>
<line x1="178.70" y1="490.75" x2="181.50" y2="490.75" stroke="#1a1a1a" stroke-width="1.0" />
<text x="174.90" y="493.78" font-size="8.3" text-anchor="end" font-weight="normal" fill="#1c1c1c" stroke="#1c1c1c" stroke-width="0.1" >1000</text>
<line x1="178.70" y1="467.28" x2="181.50" y2="467.28" stroke="#1a1a1a" stroke-width="1.0" />
<text x="174.90" y="470.30" font-size="8.3" text-anchor="end" font-weight="normal" fill="#1c1c1c" stroke="#1c1c1c" stroke-width="0.1" >1500</text>
<line x1="178.70" y1="443.80" x2="181.50" y2="443.80" stroke="#1a1a1a" stroke-width="1.0" />
<text x="174.90" y="446.83" font-size="8.3" text-anchor="end" font-weight="normal" fill="#1c1c1c" stroke="#1c1c1c" stroke-width="0.1" >2000</text>
<line x1="181.00" y1="537.50" x2="247.50" y2="537.50" stroke="#1a1a1a" stroke-width="1.15" />
<line x1="198.20" y1="537.50" x2="198.20" y2="540.30" stroke="#1a1a1a" stroke-width="1.0" />
<line x1="231.60" y1="537.50" x2="231.60" y2="540.30" stroke="#1a1a1a" stroke-width="1.0" />
<path d="M198.20,450.30 V447.50 H231.60 V450.30" fill="none" stroke="#222" stroke-width="1.0"/>
<text x="214.90" y="444.60" font-size="7.4" text-anchor="middle" font-weight="normal" fill="#1c1c1c" stroke="#1c1c1c" stroke-width="0.08" >NS</text>
<text transform="translate(152.30,488.90) rotate(-90)" x="0" y="0" font-size="9.0" font-weight="bold" text-anchor="middle" fill="#1c1c1c" stroke="#1c1c1c" stroke-width="0.25" textLength="10.20" lengthAdjust="spacingAndGlyphs">MFI</text>
<text x="198.20" y="550.30" font-size="7.9" text-anchor="middle" font-weight="normal" fill="#1c1c1c" stroke="#1c1c1c" stroke-width="0.18" >Pre</text>
<text x="231.60" y="550.30" font-size="7.9" text-anchor="middle" font-weight="normal" fill="#1c1c1c" stroke="#1c1c1c" stroke-width="0.18" >Post</text>
<line x1="198.20" y1="453.52" x2="231.60" y2="467.28" stroke="#1c4b7e" stroke-width="1.3" />
<line x1="198.20" y1="458.12" x2="231.60" y2="468.92" stroke="#1c4b7e" stroke-width="1.3" />
<line x1="198.20" y1="462.72" x2="231.60" y2="474.69" stroke="#1c4b7e" stroke-width="1.3" />
<line x1="198.20" y1="473.52" x2="231.60" y2="458.12" stroke="#3ea757" stroke-width="1.3" />
<line x1="198.20" y1="469.62" x2="231.60" y2="483.52" stroke="#c42043" stroke-width="1.3" />
<line x1="198.20" y1="474.69" x2="231.60" y2="484.18" stroke="#c42043" stroke-width="1.3" />
<line x1="198.20" y1="481.83" x2="231.60" y2="484.65" stroke="#3ea757" stroke-width="1.3" />
<line x1="198.20" y1="494.32" x2="231.60" y2="484.65" stroke="#3ea757" stroke-width="1.3" />
<line x1="198.20" y1="497.32" x2="231.60" y2="490.42" stroke="#1c4b7e" stroke-width="1.3" />
<line x1="198.20" y1="518.12" x2="231.60" y2="508.92" stroke="#c42043" stroke-width="1.3" />
<text x="283.25" y="432.92" font-size="9.7" text-anchor="middle" font-weight="bold" fill="#1c1c1c" stroke="#1c1c1c" stroke-width="0.12" textLength="14.47" lengthAdjust="spacingAndGlyphs" >(vi)</text>
<text x="347.50" y="433.83" font-size="9.4" text-anchor="middle" font-weight="normal" fill="#1c1c1c" stroke="#1c1c1c" stroke-width="0.06" textLength="31.94" lengthAdjust="spacingAndGlyphs" >DNAM1</text>
<line x1="314.50" y1="440.30" x2="314.50" y2="538.00" stroke="#1a1a1a" stroke-width="1.15" />
<line x1="311.70" y1="537.70" x2="314.50" y2="537.70" stroke="#1a1a1a" stroke-width="1.0" />
<text x="308.00" y="540.73" font-size="8.3" text-anchor="end" font-weight="normal" fill="#1c1c1c" stroke="#1c1c1c" stroke-width="0.1" >0</text>
<line x1="311.70" y1="518.92" x2="314.50" y2="518.92" stroke="#1a1a1a" stroke-width="1.0" />
<text x="308.00" y="521.95" font-size="8.3" text-anchor="end" font-weight="normal" fill="#1c1c1c" stroke="#1c1c1c" stroke-width="0.1" >1000</text>
<line x1="311.70" y1="500.14" x2="314.50" y2="500.14" stroke="#1a1a1a" stroke-width="1.0" />
<text x="308.00" y="503.17" font-size="8.3" text-anchor="end" font-weight="normal" fill="#1c1c1c" stroke="#1c1c1c" stroke-width="0.1" >2000</text>
<line x1="311.70" y1="481.36" x2="314.50" y2="481.36" stroke="#1a1a1a" stroke-width="1.0" />
<text x="308.00" y="484.39" font-size="8.3" text-anchor="end" font-weight="normal" fill="#1c1c1c" stroke="#1c1c1c" stroke-width="0.1" >3000</text>
<line x1="311.70" y1="462.58" x2="314.50" y2="462.58" stroke="#1a1a1a" stroke-width="1.0" />
<text x="308.00" y="465.61" font-size="8.3" text-anchor="end" font-weight="normal" fill="#1c1c1c" stroke="#1c1c1c" stroke-width="0.1" >4000</text>
<line x1="311.70" y1="443.80" x2="314.50" y2="443.80" stroke="#1a1a1a" stroke-width="1.0" />
<text x="308.00" y="446.83" font-size="8.3" text-anchor="end" font-weight="normal" fill="#1c1c1c" stroke="#1c1c1c" stroke-width="0.1" >5000</text>
<line x1="314.00" y1="537.50" x2="381.00" y2="537.50" stroke="#1a1a1a" stroke-width="1.15" />
<line x1="331.50" y1="537.50" x2="331.50" y2="540.30" stroke="#1a1a1a" stroke-width="1.0" />
<line x1="365.40" y1="537.50" x2="365.40" y2="540.30" stroke="#1a1a1a" stroke-width="1.0" />
<path d="M331.50,450.30 V447.50 H365.40 V450.30" fill="none" stroke="#222" stroke-width="1.0"/>
<text x="348.45" y="444.60" font-size="7.4" text-anchor="middle" font-weight="normal" fill="#1c1c1c" stroke="#1c1c1c" stroke-width="0.08" >NS</text>
<text transform="translate(284.20,488.90) rotate(-90)" x="0" y="0" font-size="9.0" font-weight="bold" text-anchor="middle" fill="#1c1c1c" stroke="#1c1c1c" stroke-width="0.25" textLength="10.20" lengthAdjust="spacingAndGlyphs">MFI</text>
<text x="331.50" y="550.30" font-size="7.9" text-anchor="middle" font-weight="normal" fill="#1c1c1c" stroke="#1c1c1c" stroke-width="0.18" >Pre</text>
<text x="365.40" y="550.30" font-size="7.9" text-anchor="middle" font-weight="normal" fill="#1c1c1c" stroke="#1c1c1c" stroke-width="0.18" >Post</text>
<line x1="331.50" y1="469.15" x2="365.40" y2="463.80" stroke="#3ea757" stroke-width="1.3" />
<line x1="331.50" y1="470.09" x2="365.40" y2="479.48" stroke="#3ea757" stroke-width="1.3" />
<line x1="331.50" y1="473.47" x2="365.40" y2="480.42" stroke="#3ea757" stroke-width="1.3" />
<line x1="331.50" y1="475.73" x2="365.40" y2="481.55" stroke="#1c4b7e" stroke-width="1.3" />
<line x1="331.50" y1="474.60" x2="365.40" y2="479.86" stroke="#3ea757" stroke-width="1.3" />
<line x1="331.50" y1="489.72" x2="365.40" y2="482.77" stroke="#c42043" stroke-width="1.3" />
<line x1="331.50" y1="493.38" x2="365.40" y2="477.70" stroke="#1c4b7e" stroke-width="1.3" />
<line x1="331.50" y1="493.75" x2="365.40" y2="497.98" stroke="#1c4b7e" stroke-width="1.3" />
<line x1="331.50" y1="499.58" x2="365.40" y2="484.18" stroke="#c42043" stroke-width="1.3" />
<line x1="331.50" y1="490.94" x2="365.40" y2="484.55" stroke="#c42043" stroke-width="1.3" />
<line x1="331.50" y1="512.82" x2="365.40" y2="493.38" stroke="#1c4b7e" stroke-width="1.3" />
<text x="417.85" y="432.92" font-size="9.7" text-anchor="middle" font-weight="bold" fill="#1c1c1c" stroke="#1c1c1c" stroke-width="0.12" textLength="18.27" lengthAdjust="spacingAndGlyphs" >(vii)</text>
<text x="485.75" y="433.68" font-size="9.0" text-anchor="middle" font-weight="normal" fill="#1c1c1c" stroke="#1c1c1c" stroke-width="0.06" textLength="50.00" lengthAdjust="spacingAndGlyphs" >Granzyme B</text>
<line x1="452.50" y1="440.30" x2="452.50" y2="538.00" stroke="#1a1a1a" stroke-width="1.15" />
<line x1="449.70" y1="537.70" x2="452.50" y2="537.70" stroke="#1a1a1a" stroke-width="1.0" />
<text x="445.80" y="540.73" font-size="8.3" text-anchor="end" font-weight="normal" fill="#1c1c1c" stroke="#1c1c1c" stroke-width="0.1" >0</text>
<line x1="449.70" y1="514.23" x2="452.50" y2="514.23" stroke="#1a1a1a" stroke-width="1.0" />
<text x="445.80" y="517.25" font-size="8.3" text-anchor="end" font-weight="normal" fill="#1c1c1c" stroke="#1c1c1c" stroke-width="0.1" >5000</text>
<line x1="449.70" y1="490.75" x2="452.50" y2="490.75" stroke="#1a1a1a" stroke-width="1.0" />
<text x="445.80" y="493.78" font-size="8.3" text-anchor="end" font-weight="normal" fill="#1c1c1c" stroke="#1c1c1c" stroke-width="0.1" >10000</text>
<line x1="449.70" y1="467.28" x2="452.50" y2="467.28" stroke="#1a1a1a" stroke-width="1.0" />
<text x="445.80" y="470.30" font-size="8.3" text-anchor="end" font-weight="normal" fill="#1c1c1c" stroke="#1c1c1c" stroke-width="0.1" >15000</text>
<line x1="449.70" y1="443.80" x2="452.50" y2="443.80" stroke="#1a1a1a" stroke-width="1.0" />
<text x="445.80" y="446.83" font-size="8.3" text-anchor="end" font-weight="normal" fill="#1c1c1c" stroke="#1c1c1c" stroke-width="0.1" >20000</text>
<line x1="452.00" y1="537.50" x2="512.00" y2="537.50" stroke="#1a1a1a" stroke-width="1.15" />
<line x1="469.00" y1="537.50" x2="469.00" y2="540.30" stroke="#1a1a1a" stroke-width="1.0" />
<line x1="503.20" y1="537.50" x2="503.20" y2="540.30" stroke="#1a1a1a" stroke-width="1.0" />
<path d="M469.00,450.30 V447.50 H503.20 V450.30" fill="none" stroke="#222" stroke-width="1.0"/>
<text x="486.10" y="444.60" font-size="7.4" text-anchor="middle" font-weight="normal" fill="#1c1c1c" stroke="#1c1c1c" stroke-width="0.08" >NS</text>
<text transform="translate(418.10,488.90) rotate(-90)" x="0" y="0" font-size="9.0" font-weight="bold" text-anchor="middle" fill="#1c1c1c" stroke="#1c1c1c" stroke-width="0.25" textLength="10.20" lengthAdjust="spacingAndGlyphs">MFI</text>
<text x="469.00" y="550.30" font-size="7.9" text-anchor="middle" font-weight="normal" fill="#1c1c1c" stroke="#1c1c1c" stroke-width="0.18" >Pre</text>
<text x="503.20" y="550.30" font-size="7.9" text-anchor="middle" font-weight="normal" fill="#1c1c1c" stroke="#1c1c1c" stroke-width="0.18" >Post</text>
<line x1="469.00" y1="474.69" x2="503.20" y2="459.72" stroke="#3ea757" stroke-width="1.3" />
<line x1="469.00" y1="478.82" x2="503.20" y2="478.82" stroke="#3ea757" stroke-width="1.3" />
<line x1="469.00" y1="486.90" x2="503.20" y2="484.60" stroke="#1c4b7e" stroke-width="1.3" />
<line x1="469.00" y1="487.37" x2="503.20" y2="486.90" stroke="#1c4b7e" stroke-width="1.3" />
<line x1="469.00" y1="501.50" x2="503.20" y2="502.63" stroke="#c42043" stroke-width="1.3" />
<line x1="469.00" y1="508.22" x2="503.20" y2="504.18" stroke="#1c4b7e" stroke-width="1.3" />
<line x1="469.00" y1="513.52" x2="503.20" y2="516.90" stroke="#c42043" stroke-width="1.3" />
<line x1="469.00" y1="515.12" x2="503.20" y2="511.17" stroke="#3ea757" stroke-width="1.3" />
<line x1="469.00" y1="518.83" x2="503.20" y2="510.47" stroke="#c42043" stroke-width="1.3" />
<line x1="469.00" y1="522.72" x2="503.20" y2="519.20" stroke="#1c4b7e" stroke-width="1.3" />
<text x="50.65" y="567.22" font-size="9.7" text-anchor="middle" font-weight="bold" fill="#1c1c1c" stroke="#1c1c1c" stroke-width="0.12" textLength="21.67" lengthAdjust="spacingAndGlyphs" >(viii)</text>
<text x="100.75" y="567.98" font-size="9.0" text-anchor="middle" font-weight="normal" fill="#1c1c1c" stroke="#1c1c1c" stroke-width="0.06" textLength="17.00" lengthAdjust="spacingAndGlyphs" >PD1</text>
<line x1="68.50" y1="573.40" x2="68.50" y2="671.00" stroke="#1a1a1a" stroke-width="1.15" />
<line x1="65.70" y1="670.40" x2="68.50" y2="670.40" stroke="#1a1a1a" stroke-width="1.0" />
<text x="61.80" y="673.43" font-size="8.3" text-anchor="end" font-weight="normal" fill="#1c1c1c" stroke="#1c1c1c" stroke-width="0.1" >0</text>
<line x1="65.70" y1="639.23" x2="68.50" y2="639.23" stroke="#1a1a1a" stroke-width="1.0" />
<text x="61.80" y="642.26" font-size="8.3" text-anchor="end" font-weight="normal" fill="#1c1c1c" stroke="#1c1c1c" stroke-width="0.1" >2</text>
<line x1="65.70" y1="608.07" x2="68.50" y2="608.07" stroke="#1a1a1a" stroke-width="1.0" />
<text x="61.80" y="611.09" font-size="8.3" text-anchor="end" font-weight="normal" fill="#1c1c1c" stroke="#1c1c1c" stroke-width="0.1" >4</text>
<line x1="65.70" y1="576.90" x2="68.50" y2="576.90" stroke="#1a1a1a" stroke-width="1.0" />
<text x="61.80" y="579.93" font-size="8.3" text-anchor="end" font-weight="normal" fill="#1c1c1c" stroke="#1c1c1c" stroke-width="0.1" >6</text>
<line x1="68.00" y1="670.50" x2="135.50" y2="670.50" stroke="#1a1a1a" stroke-width="1.15" />
<line x1="85.30" y1="670.50" x2="85.30" y2="673.30" stroke="#1a1a1a" stroke-width="1.0" />
<line x1="119.90" y1="670.50" x2="119.90" y2="673.30" stroke="#1a1a1a" stroke-width="1.0" />
<path d="M85.30,584.30 V581.50 H119.90 V584.30" fill="none" stroke="#222" stroke-width="1.0"/>
<circle cx="100.80" cy="576.20" r="1.15" fill="#222"/>
<circle cx="104.40" cy="576.20" r="1.15" fill="#222"/>
<text transform="translate(50.13,622.15) rotate(-90)" x="0" y="0" font-size="9.4" font-weight="normal" text-anchor="middle" fill="#1c1c1c" stroke="#1c1c1c" stroke-width="0.2" textLength="51.50" lengthAdjust="spacingAndGlyphs">PD1<tspan font-size="5.5" dy="-2.6">+</tspan><tspan dy="2.6">NK cells (%)</tspan></text>
<text x="85.30" y="683.10" font-size="7.9" text-anchor="middle" font-weight="normal" fill="#1c1c1c" stroke="#1c1c1c" stroke-width="0.18" >Pre</text>
<text x="119.90" y="683.10" font-size="7.9" text-anchor="middle" font-weight="normal" fill="#1c1c1c" stroke="#1c1c1c" stroke-width="0.18" >Post</text>
<line x1="85.30" y1="590.15" x2="119.90" y2="621.94" stroke="#3ea757" stroke-width="1.3" />
<line x1="85.30" y1="595.91" x2="119.90" y2="642.66" stroke="#1c4b7e" stroke-width="1.3" />
<line x1="85.30" y1="610.40" x2="119.90" y2="656.53" stroke="#3ea757" stroke-width="1.3" />
<line x1="85.30" y1="628.79" x2="119.90" y2="659.96" stroke="#1c4b7e" stroke-width="1.3" />
<line x1="85.30" y1="655.75" x2="119.90" y2="667.28" stroke="#c42043" stroke-width="1.3" />
<line x1="85.30" y1="656.38" x2="119.90" y2="666.97" stroke="#1c4b7e" stroke-width="1.3" />
<line x1="85.30" y1="659.18" x2="119.90" y2="665.73" stroke="#3ea757" stroke-width="1.3" />
<line x1="85.30" y1="660.12" x2="119.90" y2="666.04" stroke="#3ea757" stroke-width="1.3" />
<line x1="85.30" y1="661.36" x2="119.90" y2="665.26" stroke="#1c4b7e" stroke-width="1.3" />
<line x1="85.30" y1="664.17" x2="119.90" y2="667.28" stroke="#c42043" stroke-width="1.3" />
<line x1="85.30" y1="668.37" x2="119.90" y2="666.19" stroke="#c42043" stroke-width="1.3" />
<text x="20.20" y="683.00" font-size="7.7" text-anchor="start" font-weight="normal" fill="#1c1c1c" textLength="53.50" lengthAdjust="spacingAndGlyphs" >IL-15 injections:</text>
<text x="196.70" y="567.22" font-size="9.7" text-anchor="middle" font-weight="bold" fill="#1c1c1c" stroke="#1c1c1c" stroke-width="0.12" textLength="15.97" lengthAdjust="spacingAndGlyphs" >(ix)</text>
<text x="259.05" y="567.98" font-size="9.0" text-anchor="middle" font-weight="normal" fill="#1c1c1c" stroke="#1c1c1c" stroke-width="0.06" textLength="20.60" lengthAdjust="spacingAndGlyphs" >TIM3</text>
<line x1="225.50" y1="573.90" x2="225.50" y2="671.00" stroke="#1a1a1a" stroke-width="1.15" />
<line x1="222.70" y1="670.40" x2="225.50" y2="670.40" stroke="#1a1a1a" stroke-width="1.0" />
<text x="219.50" y="673.43" font-size="8.3" text-anchor="end" font-weight="normal" fill="#1c1c1c" stroke="#1c1c1c" stroke-width="0.1" >0</text>
<line x1="222.70" y1="651.80" x2="225.50" y2="651.80" stroke="#1a1a1a" stroke-width="1.0" />
<text x="219.50" y="654.83" font-size="8.3" text-anchor="end" font-weight="normal" fill="#1c1c1c" stroke="#1c1c1c" stroke-width="0.1" >20</text>
<line x1="222.70" y1="633.20" x2="225.50" y2="633.20" stroke="#1a1a1a" stroke-width="1.0" />
<text x="219.50" y="636.23" font-size="8.3" text-anchor="end" font-weight="normal" fill="#1c1c1c" stroke="#1c1c1c" stroke-width="0.1" >40</text>
<line x1="222.70" y1="614.60" x2="225.50" y2="614.60" stroke="#1a1a1a" stroke-width="1.0" />
<text x="219.50" y="617.63" font-size="8.3" text-anchor="end" font-weight="normal" fill="#1c1c1c" stroke="#1c1c1c" stroke-width="0.1" >60</text>
<line x1="222.70" y1="596.00" x2="225.50" y2="596.00" stroke="#1a1a1a" stroke-width="1.0" />
<text x="219.50" y="599.03" font-size="8.3" text-anchor="end" font-weight="normal" fill="#1c1c1c" stroke="#1c1c1c" stroke-width="0.1" >80</text>
<line x1="222.70" y1="577.40" x2="225.50" y2="577.40" stroke="#1a1a1a" stroke-width="1.0" />
<text x="219.50" y="580.43" font-size="8.3" text-anchor="end" font-weight="normal" fill="#1c1c1c" stroke="#1c1c1c" stroke-width="0.1" >100</text>
<line x1="225.00" y1="670.50" x2="293.80" y2="670.50" stroke="#1a1a1a" stroke-width="1.15" />
<line x1="243.00" y1="670.50" x2="243.00" y2="673.30" stroke="#1a1a1a" stroke-width="1.0" />
<line x1="276.80" y1="670.50" x2="276.80" y2="673.30" stroke="#1a1a1a" stroke-width="1.0" />
<path d="M243.00,584.30 V581.50 H276.80 V584.30" fill="none" stroke="#222" stroke-width="1.0"/>
<circle cx="259.90" cy="576.20" r="1.15" fill="#222"/>
<text transform="translate(200.73,622.15) rotate(-90)" x="0" y="0" font-size="9.4" font-weight="normal" text-anchor="middle" fill="#1c1c1c" stroke="#1c1c1c" stroke-width="0.2" textLength="53.70" lengthAdjust="spacingAndGlyphs">TIM3<tspan font-size="5.5" dy="-2.6">+</tspan><tspan dy="2.6">NK cells (%)</tspan></text>
<text x="243.00" y="683.10" font-size="7.9" text-anchor="middle" font-weight="normal" fill="#1c1c1c" stroke="#1c1c1c" stroke-width="0.18" >Pre</text>
<text x="276.80" y="683.10" font-size="7.9" text-anchor="middle" font-weight="normal" fill="#1c1c1c" stroke="#1c1c1c" stroke-width="0.18" >Post</text>
<line x1="243.00" y1="596.00" x2="276.80" y2="596.93" stroke="#1c4b7e" stroke-width="1.3" />
<line x1="243.00" y1="596.00" x2="276.80" y2="597.21" stroke="#3ea757" stroke-width="1.3" />
<line x1="243.00" y1="596.46" x2="276.80" y2="597.58" stroke="#3ea757" stroke-width="1.3" />
<line x1="243.00" y1="596.93" x2="276.80" y2="603.90" stroke="#3ea757" stroke-width="1.3" />
<line x1="243.00" y1="606.79" x2="276.80" y2="623.06" stroke="#1c4b7e" stroke-width="1.3" />
<line x1="243.00" y1="605.76" x2="276.80" y2="609.21" stroke="#3ea757" stroke-width="1.3" />
<line x1="243.00" y1="602.32" x2="276.80" y2="633.01" stroke="#1c4b7e" stroke-width="1.3" />
<line x1="243.00" y1="606.79" x2="276.80" y2="633.48" stroke="#c42043" stroke-width="1.3" />
<line x1="243.00" y1="613.20" x2="276.80" y2="615.53" stroke="#1c4b7e" stroke-width="1.3" />
<line x1="243.00" y1="628.83" x2="276.80" y2="633.85" stroke="#c42043" stroke-width="1.3" />
<line x1="243.00" y1="647.34" x2="276.80" y2="643.43" stroke="#c42043" stroke-width="1.3" />
<text x="346.70" y="567.22" font-size="9.7" text-anchor="middle" font-weight="bold" fill="#1c1c1c" stroke="#1c1c1c" stroke-width="0.12" textLength="13.57" lengthAdjust="spacingAndGlyphs" >(x)</text>
<text x="409.15" y="567.98" font-size="9.0" text-anchor="middle" font-weight="normal" fill="#1c1c1c" stroke="#1c1c1c" stroke-width="0.06" textLength="21.60" lengthAdjust="spacingAndGlyphs" >TIGIT</text>
<line x1="377.50" y1="573.90" x2="377.50" y2="671.00" stroke="#1a1a1a" stroke-width="1.15" />
<line x1="374.70" y1="670.40" x2="377.50" y2="670.40" stroke="#1a1a1a" stroke-width="1.0" />
<text x="370.60" y="673.43" font-size="8.3" text-anchor="end" font-weight="normal" fill="#1c1c1c" stroke="#1c1c1c" stroke-width="0.1" >0</text>
<line x1="374.70" y1="651.80" x2="377.50" y2="651.80" stroke="#1a1a1a" stroke-width="1.0" />
<text x="370.60" y="654.83" font-size="8.3" text-anchor="end" font-weight="normal" fill="#1c1c1c" stroke="#1c1c1c" stroke-width="0.1" >20</text>
<line x1="374.70" y1="633.20" x2="377.50" y2="633.20" stroke="#1a1a1a" stroke-width="1.0" />
<text x="370.60" y="636.23" font-size="8.3" text-anchor="end" font-weight="normal" fill="#1c1c1c" stroke="#1c1c1c" stroke-width="0.1" >40</text>
<line x1="374.70" y1="614.60" x2="377.50" y2="614.60" stroke="#1a1a1a" stroke-width="1.0" />
<text x="370.60" y="617.63" font-size="8.3" text-anchor="end" font-weight="normal" fill="#1c1c1c" stroke="#1c1c1c" stroke-width="0.1" >60</text>
<line x1="374.70" y1="596.00" x2="377.50" y2="596.00" stroke="#1a1a1a" stroke-width="1.0" />
<text x="370.60" y="599.03" font-size="8.3" text-anchor="end" font-weight="normal" fill="#1c1c1c" stroke="#1c1c1c" stroke-width="0.1" >80</text>
<line x1="374.70" y1="577.40" x2="377.50" y2="577.40" stroke="#1a1a1a" stroke-width="1.0" />
<text x="370.60" y="580.43" font-size="8.3" text-anchor="end" font-weight="normal" fill="#1c1c1c" stroke="#1c1c1c" stroke-width="0.1" >100</text>
<line x1="377.00" y1="670.50" x2="444.00" y2="670.50" stroke="#1a1a1a" stroke-width="1.15" />
<line x1="393.50" y1="670.50" x2="393.50" y2="673.30" stroke="#1a1a1a" stroke-width="1.0" />
<line x1="428.00" y1="670.50" x2="428.00" y2="673.30" stroke="#1a1a1a" stroke-width="1.0" />
<path d="M393.50,584.30 V581.50 H428.00 V584.30" fill="none" stroke="#222" stroke-width="1.0"/>
<text x="410.75" y="577.90" font-size="7.4" text-anchor="middle" font-weight="normal" fill="#1c1c1c" stroke="#1c1c1c" stroke-width="0.08" >NS</text>
<text transform="translate(350.63,622.70) rotate(-90)" x="0" y="0" font-size="9.4" font-weight="normal" text-anchor="middle" fill="#1c1c1c" stroke="#1c1c1c" stroke-width="0.2" textLength="54.00" lengthAdjust="spacingAndGlyphs">TIGIT<tspan font-size="5.5" dy="-2.6">+</tspan><tspan dy="2.6">NK cells (%)</tspan></text>
<text x="393.50" y="683.10" font-size="7.9" text-anchor="middle" font-weight="normal" fill="#1c1c1c" stroke="#1c1c1c" stroke-width="0.18" >Pre</text>
<text x="428.00" y="683.10" font-size="7.9" text-anchor="middle" font-weight="normal" fill="#1c1c1c" stroke="#1c1c1c" stroke-width="0.18" >Post</text>
<line x1="393.50" y1="597.21" x2="428.00" y2="610.41" stroke="#1c4b7e" stroke-width="1.3" />
<line x1="393.50" y1="597.58" x2="428.00" y2="628.36" stroke="#c42043" stroke-width="1.3" />
<line x1="393.50" y1="603.90" x2="428.00" y2="631.62" stroke="#1c4b7e" stroke-width="1.3" />
<line x1="393.50" y1="603.44" x2="428.00" y2="605.76" stroke="#3ea757" stroke-width="1.3" />
<line x1="393.50" y1="605.30" x2="428.00" y2="612.27" stroke="#c42043" stroke-width="1.3" />
<line x1="393.50" y1="608.09" x2="428.00" y2="611.35" stroke="#1c4b7e" stroke-width="1.3" />
<line x1="393.50" y1="611.53" x2="428.00" y2="610.14" stroke="#3ea757" stroke-width="1.3" />
<line x1="393.50" y1="621.48" x2="428.00" y2="612.55" stroke="#3ea757" stroke-width="1.3" />
<line x1="393.50" y1="630.04" x2="428.00" y2="640.36" stroke="#1c4b7e" stroke-width="1.3" />
<line x1="393.50" y1="653.75" x2="428.00" y2="649.20" stroke="#c42043" stroke-width="1.3" />
</svg>
</body></html>
